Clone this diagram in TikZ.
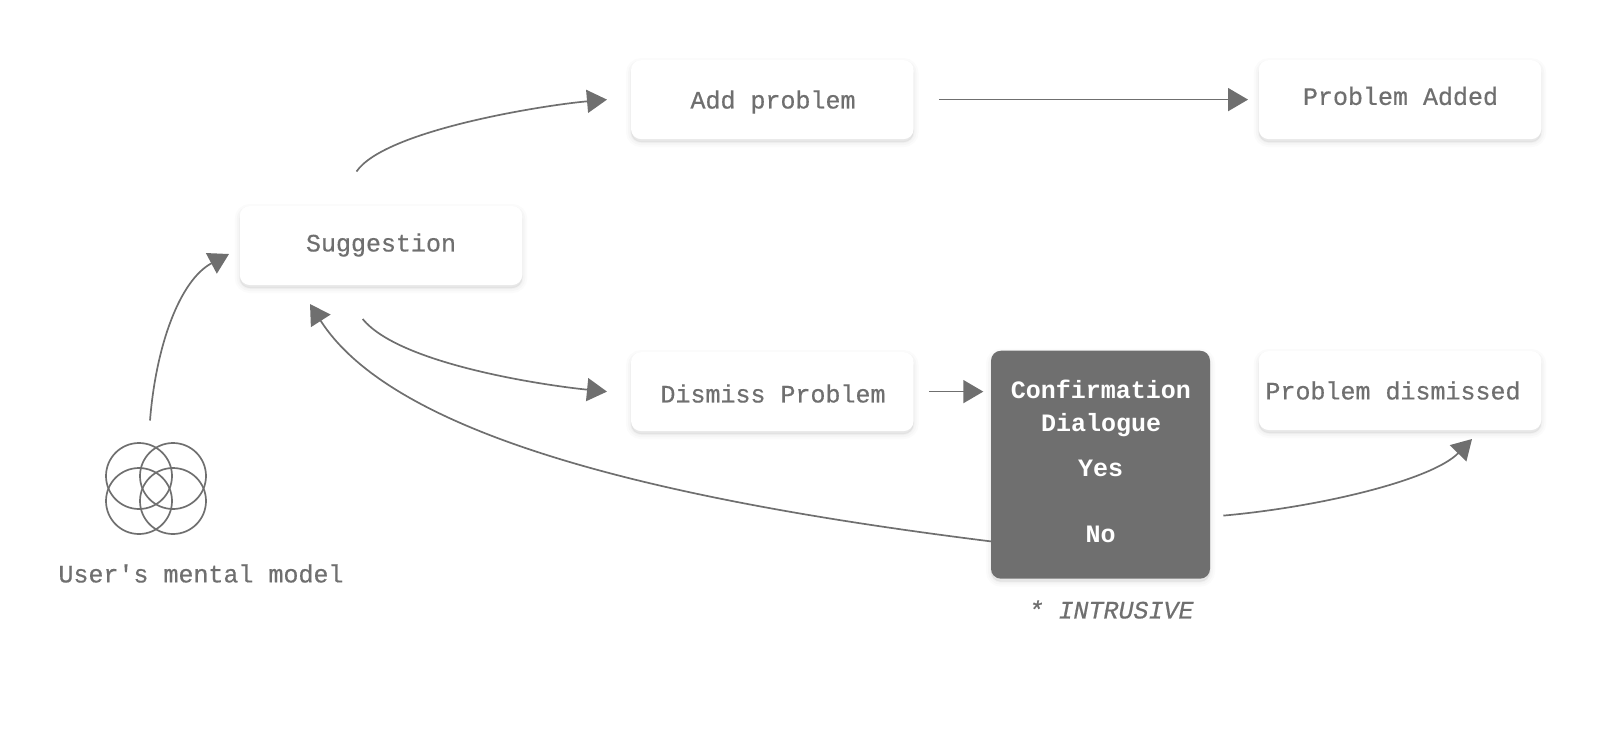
\documentclass[tikz,border=0pt]{standalone}
\usepackage{fontspec}
\setmainfont{Liberation Mono}[UprightFeatures={FakeBold=0.5},ItalicFeatures={FakeBold=0.5}]
\usetikzlibrary{arrows.meta,shadows}
\definecolor{ink}{HTML}{6F6F6F}
\tikzset{
  softshadow/.style={
    general shadow={fill=black,draw=black,fill opacity=.014,draw opacity=.014,line width=10pt,shadow yshift=-3pt},
    general shadow={fill=black,draw=black,fill opacity=.018,draw opacity=.018,line width=6pt,shadow yshift=-3pt},
    general shadow={fill=black,draw=black,fill opacity=.025,draw opacity=.025,line width=2pt,shadow yshift=-3pt}},
  card/.style={rectangle,rounded corners=10pt,fill=white,inner sep=0pt,minimum width=282.5pt,minimum height=79pt,softshadow},
  darkcard/.style={rectangle,rounded corners=10pt,fill=ink,inner sep=0pt,minimum width=219pt,minimum height=228pt,softshadow},
  label text/.style={text=ink,font=\fontsize{25}{30}\selectfont,inner sep=0pt,anchor=center},
  dark text/.style={text=white,font=\fontsize{25}{30}\selectfont\bfseries,inner sep=0pt,anchor=center},
  note text/.style={text=ink,font=\fontsize{25}{30}\selectfont\itshape,inner sep=0pt,anchor=center},
  conn/.style={draw=ink,line width=1.7pt,-{Triangle[length=20pt,width=23pt,fill=ink]}},
  ring/.style={circle,draw=ink,line width=1.7pt,minimum size=66pt,inner sep=0pt}
}
\begin{document}
\begin{tikzpicture}[x=1pt,y=-1pt]
\useasboundingbox (0,0) rectangle (1620,732);
% cards
\node[card] (add) at (772.3,99.6) {};
\node[card] (added) at (1400,99.6) {};
\node[card] (sugg) at (381,245.5) {};
\node[card] (dismiss) at (772.3,391.6) {};
\node[card] (dismissed) at (1400,390.5) {};
\node[darkcard] (dialog) at (1100.5,464.7) {};
% texts
\node[label text] (tadd) at (773,102) {Add problem};
\node[label text] (tadded) at (1400.5,96) {Problem Added};
\node[label text] (tsugg) at (381,245) {Suggestion};
\node[label text] (tdismiss) at (773,393.5) {Dismiss Problem};
\node[label text] (tdismissed) at (1393,390.5) {Problem dismissed};
\node[dark text] (tconf) at (1101,389.5) {Confirmation};
\node[dark text] (tdlg) at (1101,425) {Dialogue};
\node[dark text] (tyes) at (1100.5,468) {Yes};
\node[dark text] (tno) at (1100.5,534) {No};
\node[label text] (tuser) at (201,573.5) {User\textquotesingle s mental model};
\node[note text] (tnote) at (1111,609.5) {* INTRUSIVE};
% rings
\node[ring] (r1) at (139,476) {};
\node[ring] (r2) at (173,476) {};
\node[ring] (r3) at (139,501) {};
\node[ring] (r4) at (173,501) {};
% connector ends
\coordinate (a0) at (150,420.5);
\coordinate (a1) at (229,254);
\coordinate (b0) at (356.5,171.5);
\coordinate (b1) at (607,99.6);
\coordinate (d0) at (362.7,319);
\coordinate (d1) at (607,391.6);
\coordinate (f0) at (991,541.4);
\coordinate (f1) at (310,304);
\coordinate (g0) at (1223.3,515.6);
\coordinate (g1) at (1472,439);
% connectors
\draw[conn] (a0) .. controls (156,345) and (180,280) .. (a1);
\draw[conn] (b0) .. controls (385,130) and (545,105) .. (b1);
\draw[conn] (add.east) -- (added.west) [shorten <=25pt,shorten >=10.5pt];
\draw[conn] (d0) .. controls (400,365) and (550,386) .. (d1);
\draw[conn] (f0) .. controls (700,505) and (400,445) .. (f1);
\draw[conn] (g0) .. controls (1320,507) and (1432,480) .. (g1);
\draw[conn] (dismiss.east) -- (dismiss.east -| dialog.west) [shorten <=15pt,shorten >=7.5pt];
\end{tikzpicture}
\end{document}
